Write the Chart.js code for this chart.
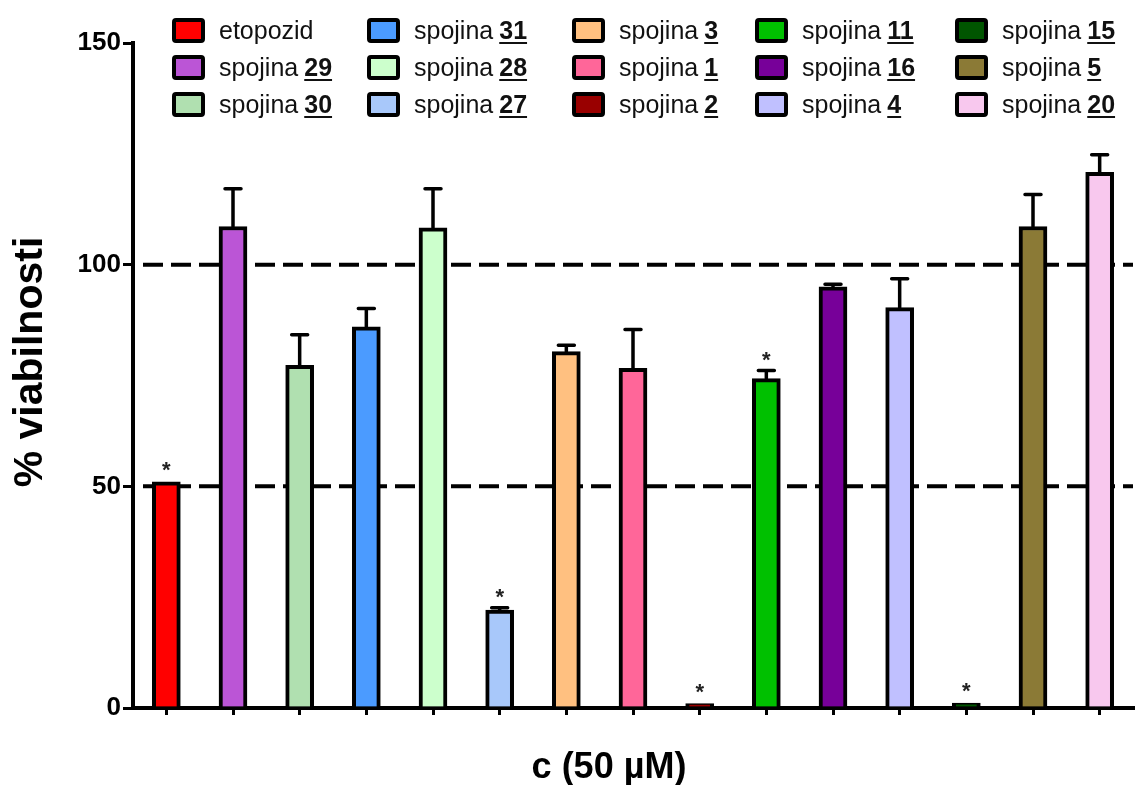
<!DOCTYPE html>
<html lang="sl">
<head>
    <meta charset="UTF-8">
    <title>Viabilnost celic</title>
    <script src="https://cdn.jsdelivr.net/npm/chart.js"></script>
    <style>
        body {
            margin: 0;
            background: #fff;
            font-family: "Liberation Sans", Arial, sans-serif;
        }
        .okvir {
            position: relative;
            width: 1135px;
            height: 785px;
        }
        .legenda {
            position: absolute;
            left: 0;
            top: 0;
        }
        .postavka {
            position: absolute;
            display: flex;
            align-items: center;
            font-size: 25px;
            color: #111;
            white-space: nowrap;
            height: 26px;
        }
        .barva {
            width: 25px;
            height: 17px;
            border: 4px solid #000;
            border-radius: 4px;
            margin-right: 14px;
        }
        .postavka b {
            text-decoration: underline;
            text-underline-offset: 3px;
            margin-left: 6px;
        }
    </style>
</head>
<body>

<div class="okvir">
    <canvas id="grafViabilnost"></canvas>
    <div class="legenda" id="legenda"></div>
</div>

<script>
// podatki
const spojine = ['etopozid', '29', '30', '31', '28', '27', '3', '1', '2', '11', '16', '4', '15', '5', '20'];
const viabilnost = [51, 108.6, 77.3, 86.0, 108.3, 22.1, 80.4, 76.6, 1.0, 74.3, 95.0, 90.3, 1.1, 108.6, 120.8];
const napakaZgoraj = [51.2, 117.1, 84.2, 90.1, 117.1, 22.6, 81.8, 85.4, 1.2, 76.1, 95.6, 96.8, 1.3, 115.8, 124.8];
const zvezdica = [true, false, false, false, false, true, false, false, true, true, false, false, true, false, false];
const barve = ['#ff0000', '#bb55d6', '#b0e0b0', '#4b9bff', '#ccffcc', '#a8c8fa', '#ffc080', '#ff6699',
               '#990000', '#00c000', '#770099', '#c0c0ff', '#005500', '#8b7a36', '#f8c8ee'];
const yOznake = [0, 50, 100, 150];
const crtkaneVrednosti = [50, 100];

// legenda (po stolpcih, kot v izvirniku)
const legX = [172, 367, 572, 755, 955];
const legY = [30, 67, 104];
const legenda = document.getElementById('legenda');
spojine.forEach((s, i) => {
    const st = Math.floor(i / 3);
    const vr = i % 3;
    const el = document.createElement('div');
    el.className = 'postavka';
    el.style.left = legX[st] + 'px';
    el.style.top = (legY[vr] - 13) + 'px';
    const tekst = s === 'etopozid' ? 'etopozid' : 'spojina<b>' + s + '</b>';
    el.innerHTML = `<span class="barva" style="background:${barve[i]}"></span><span>${tekst}</span>`;
    legenda.appendChild(el);
});

const pisava = '"Liberation Sans", Arial, sans-serif';

const dodatki = {
    id: 'dodatki',
    beforeDatasetsDraw(chart) {
        const ctx = chart.ctx;
        const y = chart.scales.y;
        const area = chart.chartArea;
        ctx.save();
        ctx.strokeStyle = '#000';
        ctx.lineWidth = 4;
        ctx.setLineDash([20, 8]);
        crtkaneVrednosti.forEach(v => {
            const py = y.getPixelForValue(v);
            ctx.beginPath();
            ctx.moveTo(area.left + 10, py);
            ctx.lineTo(area.right, py);
            ctx.stroke();
        });
        ctx.restore();
    },
    afterDatasetsDraw(chart) {
        const ctx = chart.ctx;
        const y = chart.scales.y;
        const bari = chart.getDatasetMeta(0).data;
        ctx.save();
        ctx.strokeStyle = '#000';
        ctx.lineWidth = 3.5;
        ctx.lineCap = 'round';
        bari.forEach((bar, i) => {
            const vrh = y.getPixelForValue(napakaZgoraj[i]);
            if (napakaZgoraj[i] - viabilnost[i] > 0.3) {
                ctx.beginPath();
                ctx.moveTo(bar.x, bar.y);
                ctx.lineTo(bar.x, vrh);
                ctx.moveTo(bar.x - 8, vrh);
                ctx.lineTo(bar.x + 8, vrh);
                ctx.stroke();
            }
            if (zvezdica[i]) {
                ctx.fillStyle = '#222';
                ctx.font = 'bold 22px ' + pisava;
                ctx.textAlign = 'center';
                ctx.textBaseline = 'alphabetic';
                ctx.fillText('*', bar.x, vrh - 4);
            }
        });
        ctx.restore();
    },
    afterDraw(chart) {
        const ctx = chart.ctx;
        ctx.save();
        ctx.fillStyle = '#000';
        ctx.textAlign = 'center';
        ctx.textBaseline = 'middle';
        // naslov osi x (v izvirniku nekoliko levo od sredine)
        ctx.font = 'bold 36px ' + pisava;
        ctx.fillText('c (50 µM)', 609, 768);
        // naslov osi y
        ctx.translate(31, 362);
        ctx.rotate(-Math.PI / 2);
        ctx.font = 'bold 41px ' + pisava;
        ctx.fillText('% viabilnosti', 0, 0);
        ctx.restore();
    }
};

new Chart(document.getElementById('grafViabilnost'), {
    type: 'bar',
    data: {
        labels: spojine,
        datasets: [{
            data: viabilnost,
            backgroundColor: barve,
            borderColor: '#000',
            borderWidth: 4,
            barThickness: 28
        }]
    },
    options: {
        responsive: true,
        maintainAspectRatio: false,
        animation: false,
        layout: { padding: { top: 43, right: 2, left: 0, bottom: 0 } },
        plugins: {
            legend: { display: false },
            tooltip: { enabled: false }
        },
        scales: {
            x: {
                offset: true,
                grid: {
                    offset: false,
                    drawOnChartArea: false,
                    drawTicks: true,
                    tickLength: 7,
                    color: '#000',
                    lineWidth: 3
                },
                border: { color: '#000', width: 4 },
                ticks: {
                    callback: () => '',
                    padding: 0
                },
                afterFit(scale) { scale.height = 77; }
            },
            y: {
                min: 0,
                max: 150,
                afterBuildTicks(scale) {
                    scale.ticks = yOznake.map(v => ({ value: v }));
                },
                grid: {
                    drawOnChartArea: false,
                    drawTicks: true,
                    tickLength: 10,
                    color: '#000',
                    lineWidth: 3
                },
                border: { color: '#000', width: 4 },
                ticks: {
                    color: '#000',
                    padding: 2,
                    font: { family: pisava, size: 26, weight: 'bold' }
                },
                afterFit(scale) { scale.width = 133; }
            }
        }
    },
    plugins: [dodatki]
});
</script>

</body>
</html>
